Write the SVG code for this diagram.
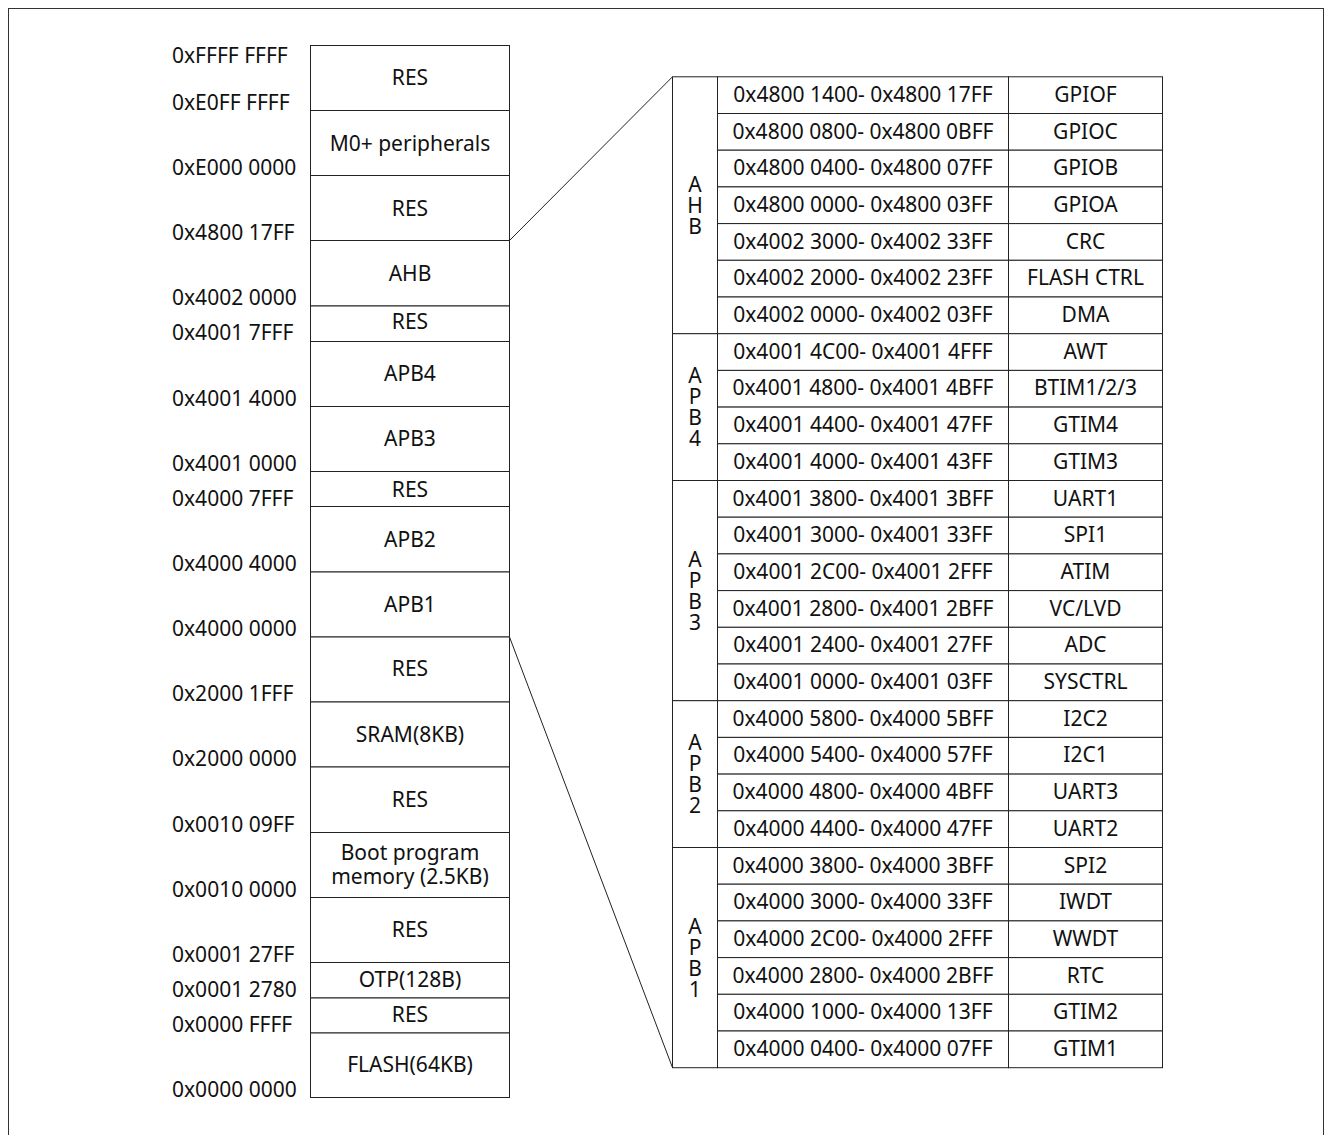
<svg xmlns="http://www.w3.org/2000/svg" width="1330" height="1135" viewBox="0 0 1330 1135">
<style>
  .frame{fill:none;stroke:#333;stroke-width:1}
  .box{fill:#fff;stroke:#222;stroke-width:1}
  .cell{fill:#fff;stroke:#222;stroke-width:1}
  .conn{fill:none;stroke:#222;stroke-width:1}
  text{font-family:"Noto Sans","DejaVu Sans",sans-serif;font-size:21px;fill:#111}
  .c{text-anchor:middle}
  .l{text-anchor:start}
  .v{writing-mode:vertical-rl;text-orientation:upright;text-anchor:middle;letter-spacing:-7px}
</style>
<rect class="frame" x="8.5" y="8.5" width="1315" height="1140"/>

<g id="connectors">
  <line class="conn" x1="509.5" y1="240.5" x2="672.5" y2="76.8"/>
  <line class="conn" x1="509.5" y1="637" x2="672.5" y2="1067.7"/>
</g>

<g id="address-labels">
  <text class="l" x="172" y="63">0xFFFF FFFF</text>
  <text class="l" x="172" y="110">0xE0FF FFFF</text>
  <text class="l" x="172" y="175">0xE000 0000</text>
  <text class="l" x="172" y="240">0x4800 17FF</text>
  <text class="l" x="172" y="305">0x4002 0000</text>
  <text class="l" x="172" y="340">0x4001 7FFF</text>
  <text class="l" x="172" y="405.5">0x4001 4000</text>
  <text class="l" x="172" y="470.5">0x4001 0000</text>
  <text class="l" x="172" y="505.5">0x4000 7FFF</text>
  <text class="l" x="172" y="571">0x4000 4000</text>
  <text class="l" x="172" y="636">0x4000 0000</text>
  <text class="l" x="172" y="701">0x2000 1FFF</text>
  <text class="l" x="172" y="766">0x2000 0000</text>
  <text class="l" x="172" y="831.5">0x0010 09FF</text>
  <text class="l" x="172" y="896.5">0x0010 0000</text>
  <text class="l" x="172" y="961.5">0x0001 27FF</text>
  <text class="l" x="172" y="997">0x0001 2780</text>
  <text class="l" x="172" y="1032">0x0000 FFFF</text>
  <text class="l" x="172" y="1096.5">0x0000 0000</text>
</g>

<g id="memory-map">
  <g id="m-res1"><rect class="box" x="310.5" y="45.5" width="199" height="65"/><text class="c" x="410" y="85">RES</text></g>
  <g id="m-m0"><rect class="box" x="310.5" y="110.5" width="199" height="65"/><text class="c" x="410" y="150.5">M0+ peripherals</text></g>
  <g id="m-res2"><rect class="box" x="310.5" y="175.5" width="199" height="65"/><text class="c" x="410" y="215.5">RES</text></g>
  <g id="m-ahb"><rect class="box" x="310.5" y="240.5" width="199" height="65.5"/><text class="c" x="410" y="280.5">AHB</text></g>
  <g id="m-res3"><rect class="box" x="310.5" y="306" width="199" height="35.5"/><text class="c" x="410" y="328.5">RES</text></g>
  <g id="m-apb4"><rect class="box" x="310.5" y="341.5" width="199" height="65"/><text class="c" x="410" y="380.5">APB4</text></g>
  <g id="m-apb3"><rect class="box" x="310.5" y="406.5" width="199" height="65"/><text class="c" x="410" y="446">APB3</text></g>
  <g id="m-res4"><rect class="box" x="310.5" y="471.5" width="199" height="35"/><text class="c" x="410" y="496.5">RES</text></g>
  <g id="m-apb2"><rect class="box" x="310.5" y="506.5" width="199" height="65.5"/><text class="c" x="410" y="546.5">APB2</text></g>
  <g id="m-apb1"><rect class="box" x="310.5" y="572" width="199" height="65"/><text class="c" x="410" y="611.5">APB1</text></g>
  <g id="m-res5"><rect class="box" x="310.5" y="637" width="199" height="65"/><text class="c" x="410" y="676">RES</text></g>
  <g id="m-sram"><rect class="box" x="310.5" y="702" width="199" height="65"/><text class="c" x="410" y="741.5">SRAM(8KB)</text></g>
  <g id="m-res6"><rect class="box" x="310.5" y="767" width="199" height="65.5"/><text class="c" x="410" y="806.5">RES</text></g>
  <g id="m-boot"><rect class="box" x="310.5" y="832.5" width="199" height="65"/><text class="c" x="410" y="860">Boot program<tspan x="410" dy="24">memory (2.5KB)</tspan></text></g>
  <g id="m-res7"><rect class="box" x="310.5" y="897.5" width="199" height="65"/><text class="c" x="410" y="937">RES</text></g>
  <g id="m-otp"><rect class="box" x="310.5" y="962.5" width="199" height="35.5"/><text class="c" x="410" y="987">OTP(128B)</text></g>
  <g id="m-res8"><rect class="box" x="310.5" y="998" width="199" height="35"/><text class="c" x="410" y="1021.5">RES</text></g>
  <g id="m-flash"><rect class="box" x="310.5" y="1033" width="199" height="64.5"/><text class="c" x="410" y="1072">FLASH(64KB)</text></g>
</g>

<g id="bus-groups">
  <g id="g-ahb"><rect class="cell" x="672.5" y="76.8" width="45" height="256.9"/>
    <text class="v" x="695" y="201.8">AHB</text></g>
  <g id="g-apb4"><rect class="cell" x="672.5" y="333.7" width="45" height="146.8"/>
    <text class="v" x="695" y="403.1">APB4</text></g>
  <g id="g-apb3"><rect class="cell" x="672.5" y="480.5" width="45" height="220.2"/>
    <text class="v" x="695" y="586.6">APB3</text></g>
  <g id="g-apb2"><rect class="cell" x="672.5" y="700.7" width="45" height="146.8"/>
    <text class="v" x="695" y="770.1">APB2</text></g>
  <g id="g-apb1"><rect class="cell" x="672.5" y="847.5" width="45" height="220.2"/>
    <text class="v" x="695" y="953.6">APB1</text></g>
</g>

<g id="peripherals">
  <g id="r0"><rect class="cell" x="717.5" y="76.8" width="291" height="36.7"/><rect class="cell" x="1008.5" y="76.8" width="154" height="36.7"/><text class="c" x="863" y="101.8">0x4800 1400- 0x4800 17FF</text><text class="c" x="1085.5" y="101.8">GPIOF</text></g>
  <g id="r1"><rect class="cell" x="717.5" y="113.5" width="291" height="36.7"/><rect class="cell" x="1008.5" y="113.5" width="154" height="36.7"/><text class="c" x="863" y="138.5">0x4800 0800- 0x4800 0BFF</text><text class="c" x="1085.5" y="138.5">GPIOC</text></g>
  <g id="r2"><rect class="cell" x="717.5" y="150.2" width="291" height="36.7"/><rect class="cell" x="1008.5" y="150.2" width="154" height="36.7"/><text class="c" x="863" y="175.2">0x4800 0400- 0x4800 07FF</text><text class="c" x="1085.5" y="175.2">GPIOB</text></g>
  <g id="r3"><rect class="cell" x="717.5" y="186.9" width="291" height="36.7"/><rect class="cell" x="1008.5" y="186.9" width="154" height="36.7"/><text class="c" x="863" y="211.9">0x4800 0000- 0x4800 03FF</text><text class="c" x="1085.5" y="211.9">GPIOA</text></g>
  <g id="r4"><rect class="cell" x="717.5" y="223.6" width="291" height="36.7"/><rect class="cell" x="1008.5" y="223.6" width="154" height="36.7"/><text class="c" x="863" y="248.6">0x4002 3000- 0x4002 33FF</text><text class="c" x="1085.5" y="248.6">CRC</text></g>
  <g id="r5"><rect class="cell" x="717.5" y="260.3" width="291" height="36.7"/><rect class="cell" x="1008.5" y="260.3" width="154" height="36.7"/><text class="c" x="863" y="285.3">0x4002 2000- 0x4002 23FF</text><text class="c" x="1085.5" y="285.3">FLASH CTRL</text></g>
  <g id="r6"><rect class="cell" x="717.5" y="297.0" width="291" height="36.7"/><rect class="cell" x="1008.5" y="297.0" width="154" height="36.7"/><text class="c" x="863" y="322.0">0x4002 0000- 0x4002 03FF</text><text class="c" x="1085.5" y="322.0">DMA</text></g>
  <g id="r7"><rect class="cell" x="717.5" y="333.7" width="291" height="36.7"/><rect class="cell" x="1008.5" y="333.7" width="154" height="36.7"/><text class="c" x="863" y="358.7">0x4001 4C00- 0x4001 4FFF</text><text class="c" x="1085.5" y="358.7">AWT</text></g>
  <g id="r8"><rect class="cell" x="717.5" y="370.4" width="291" height="36.7"/><rect class="cell" x="1008.5" y="370.4" width="154" height="36.7"/><text class="c" x="863" y="395.4">0x4001 4800- 0x4001 4BFF</text><text class="c" x="1085.5" y="395.4">BTIM1/2/3</text></g>
  <g id="r9"><rect class="cell" x="717.5" y="407.1" width="291" height="36.7"/><rect class="cell" x="1008.5" y="407.1" width="154" height="36.7"/><text class="c" x="863" y="432.1">0x4001 4400- 0x4001 47FF</text><text class="c" x="1085.5" y="432.1">GTIM4</text></g>
  <g id="r10"><rect class="cell" x="717.5" y="443.8" width="291" height="36.7"/><rect class="cell" x="1008.5" y="443.8" width="154" height="36.7"/><text class="c" x="863" y="468.8">0x4001 4000- 0x4001 43FF</text><text class="c" x="1085.5" y="468.8">GTIM3</text></g>
  <g id="r11"><rect class="cell" x="717.5" y="480.5" width="291" height="36.7"/><rect class="cell" x="1008.5" y="480.5" width="154" height="36.7"/><text class="c" x="863" y="505.5">0x4001 3800- 0x4001 3BFF</text><text class="c" x="1085.5" y="505.5">UART1</text></g>
  <g id="r12"><rect class="cell" x="717.5" y="517.2" width="291" height="36.7"/><rect class="cell" x="1008.5" y="517.2" width="154" height="36.7"/><text class="c" x="863" y="542.2">0x4001 3000- 0x4001 33FF</text><text class="c" x="1085.5" y="542.2">SPI1</text></g>
  <g id="r13"><rect class="cell" x="717.5" y="553.9" width="291" height="36.7"/><rect class="cell" x="1008.5" y="553.9" width="154" height="36.7"/><text class="c" x="863" y="578.9">0x4001 2C00- 0x4001 2FFF</text><text class="c" x="1085.5" y="578.9">ATIM</text></g>
  <g id="r14"><rect class="cell" x="717.5" y="590.6" width="291" height="36.7"/><rect class="cell" x="1008.5" y="590.6" width="154" height="36.7"/><text class="c" x="863" y="615.6">0x4001 2800- 0x4001 2BFF</text><text class="c" x="1085.5" y="615.6">VC/LVD</text></g>
  <g id="r15"><rect class="cell" x="717.5" y="627.3" width="291" height="36.7"/><rect class="cell" x="1008.5" y="627.3" width="154" height="36.7"/><text class="c" x="863" y="652.3">0x4001 2400- 0x4001 27FF</text><text class="c" x="1085.5" y="652.3">ADC</text></g>
  <g id="r16"><rect class="cell" x="717.5" y="664.0" width="291" height="36.7"/><rect class="cell" x="1008.5" y="664.0" width="154" height="36.7"/><text class="c" x="863" y="689.0">0x4001 0000- 0x4001 03FF</text><text class="c" x="1085.5" y="689.0">SYSCTRL</text></g>
  <g id="r17"><rect class="cell" x="717.5" y="700.7" width="291" height="36.7"/><rect class="cell" x="1008.5" y="700.7" width="154" height="36.7"/><text class="c" x="863" y="725.7">0x4000 5800- 0x4000 5BFF</text><text class="c" x="1085.5" y="725.7">I2C2</text></g>
  <g id="r18"><rect class="cell" x="717.5" y="737.4" width="291" height="36.7"/><rect class="cell" x="1008.5" y="737.4" width="154" height="36.7"/><text class="c" x="863" y="762.4">0x4000 5400- 0x4000 57FF</text><text class="c" x="1085.5" y="762.4">I2C1</text></g>
  <g id="r19"><rect class="cell" x="717.5" y="774.1" width="291" height="36.7"/><rect class="cell" x="1008.5" y="774.1" width="154" height="36.7"/><text class="c" x="863" y="799.1">0x4000 4800- 0x4000 4BFF</text><text class="c" x="1085.5" y="799.1">UART3</text></g>
  <g id="r20"><rect class="cell" x="717.5" y="810.8" width="291" height="36.7"/><rect class="cell" x="1008.5" y="810.8" width="154" height="36.7"/><text class="c" x="863" y="835.8">0x4000 4400- 0x4000 47FF</text><text class="c" x="1085.5" y="835.8">UART2</text></g>
  <g id="r21"><rect class="cell" x="717.5" y="847.5" width="291" height="36.7"/><rect class="cell" x="1008.5" y="847.5" width="154" height="36.7"/><text class="c" x="863" y="872.5">0x4000 3800- 0x4000 3BFF</text><text class="c" x="1085.5" y="872.5">SPI2</text></g>
  <g id="r22"><rect class="cell" x="717.5" y="884.2" width="291" height="36.7"/><rect class="cell" x="1008.5" y="884.2" width="154" height="36.7"/><text class="c" x="863" y="909.2">0x4000 3000- 0x4000 33FF</text><text class="c" x="1085.5" y="909.2">IWDT</text></g>
  <g id="r23"><rect class="cell" x="717.5" y="920.9" width="291" height="36.7"/><rect class="cell" x="1008.5" y="920.9" width="154" height="36.7"/><text class="c" x="863" y="945.9">0x4000 2C00- 0x4000 2FFF</text><text class="c" x="1085.5" y="945.9">WWDT</text></g>
  <g id="r24"><rect class="cell" x="717.5" y="957.6" width="291" height="36.7"/><rect class="cell" x="1008.5" y="957.6" width="154" height="36.7"/><text class="c" x="863" y="982.6">0x4000 2800- 0x4000 2BFF</text><text class="c" x="1085.5" y="982.6">RTC</text></g>
  <g id="r25"><rect class="cell" x="717.5" y="994.3" width="291" height="36.7"/><rect class="cell" x="1008.5" y="994.3" width="154" height="36.7"/><text class="c" x="863" y="1019.3">0x4000 1000- 0x4000 13FF</text><text class="c" x="1085.5" y="1019.3">GTIM2</text></g>
  <g id="r26"><rect class="cell" x="717.5" y="1031.0" width="291" height="36.7"/><rect class="cell" x="1008.5" y="1031.0" width="154" height="36.7"/><text class="c" x="863" y="1056.0">0x4000 0400- 0x4000 07FF</text><text class="c" x="1085.5" y="1056.0">GTIM1</text></g>
</g>
</svg>
